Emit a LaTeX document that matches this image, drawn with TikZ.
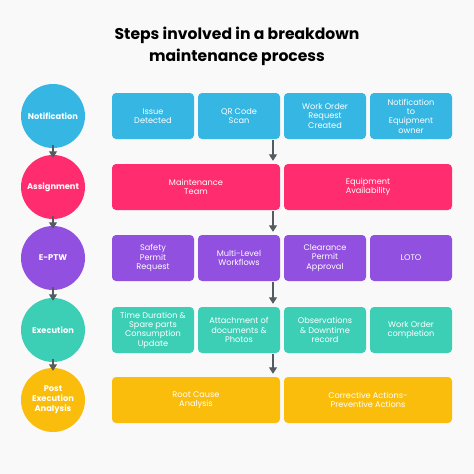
\documentclass[tikz,border=0pt]{standalone}
\usepackage{fontspec}
\setmainfont{Poppins}
\usetikzlibrary{calc}
\usetikzlibrary{arrows.meta}
\definecolor{fond}{HTML}{F9F9F9}
\definecolor{bleu}{HTML}{36B6E2}
\definecolor{rose}{HTML}{FF2D6F}
\definecolor{violet}{HTML}{9150E0}
\definecolor{turquoise}{HTML}{3DCFB6}
\definecolor{jaune}{HTML}{FBBD0B}
\definecolor{gris}{HTML}{555B5E}
\tikzset{
    etape/.style={circle,minimum size=64pt,inner sep=0pt,align=center,
        text=white,font=\bfseries\fontsize{8.3}{10}\selectfont},
    tache/.style={rounded corners=4pt,minimum height=46pt,inner sep=1pt,
        align=center,text=white,font=\fontsize{8.2}{9.3}\selectfont},
    quart/.style={tache,minimum width=82pt},
    demi/.style={tache,minimum width=168pt},
    fleche/.style={draw=gris,line width=1.3pt,-{Triangle[length=6.5pt,width=8pt]}}
}
\begin{document}
\begin{tikzpicture}[x=1pt,y=-1pt]
\fill[fond] (0,0) rectangle (474,474);
\useasboundingbox (0,0) rectangle (474,474);

% titre
\node (titre) at (237,46) [align=center,font=\bfseries\fontsize{15.6}{22}\selectfont]
    {Steps involved in a breakdown\\maintenance process};

% les étapes
\node[etape,fill=bleu] (e1) at (53,116) {Notification};
\node[etape,fill=rose] (e2) at (53,187) {Assignment};
\node[etape,fill=violet] (e3) at (53,258) {E-PTW};
\node[etape,fill=turquoise] (e4) at (53,330) {Execution};
\node[etape,fill=jaune] (e5) at (53,400) {Post\\Execution\\Analysis};

% ligne 1
\node[quart,fill=bleu] (t11) at (153,116) {Issue\\Detected};
\node[quart,fill=bleu] (t12) at (239,116) {QR Code\\Scan};
\node[quart,fill=bleu] (t13) at (325,116) {Work Order\\Request\\Created};
\node[quart,fill=bleu] (t14) at (411,116) {Notification\\to\\Equipment\\owner};
% ligne 2
\node[demi,fill=rose] (t21) at (196,187) {Maintenance\\Team};
\node[demi,fill=rose] (t22) at (368,187) {Equipment\\Availability};
% ligne 3
\node[quart,fill=violet] (t31) at (153,258) {Safety\\Permit\\Request};
\node[quart,fill=violet] (t32) at (239,258) {Multi-Level\\Workflows};
\node[quart,fill=violet] (t33) at (325,258) {Clearance\\Permit\\Approval};
\node[quart,fill=violet] (t34) at (411,258) {LOTO};
% ligne 4
\node[quart,fill=turquoise] (t41) at (153,330) {Time Duration \&\\Spare parts\\Consumption\\Update};
\node[quart,fill=turquoise] (t42) at (239,330) {Attachment of\\documents \&\\Photos};
\node[quart,fill=turquoise] (t43) at (325,330) {Observations\\\& Downtime\\record};
\node[quart,fill=turquoise] (t44) at (411,330) {Work Order\\completion};
% ligne 5
\node[demi,fill=jaune] (t51) at (196,400) {Root Cause\\Analysis};
\node[demi,fill=jaune] (t52) at (368,400) {Corrective Actions-\\Preventive Actions};

% flèches
\foreach \i/\j in {1/2,2/3,3/4,4/5}
    \draw[fleche] ($(e\i.south)+(0,-3)$) -- ($(e\j.north)+(0,3)$);

\coordinate (fx) at (273,0);
\foreach \a/\b in {t12/t21,t21/t32,t32/t42,t42/t51}
    \draw[fleche] ($(\a.south -| fx)+(0,1)$) -- ($(\b.north -| fx)+(0,-3)$);
\end{tikzpicture}
\end{document}
